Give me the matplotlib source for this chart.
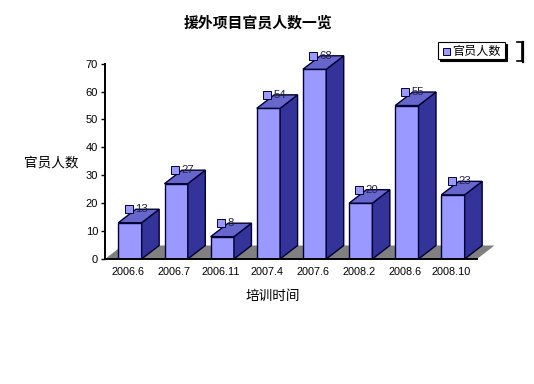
import matplotlib
matplotlib.use('Agg')

import matplotlib.pyplot as plt
from matplotlib.patches import Polygon, Rectangle

plt.rcParams['font.family'] = ['Liberation Sans', 'Noto Sans CJK SC', 'DejaVu Sans']

# datos
categories = ['2006.6', '2006.7', '2006.11', '2007.4', '2007.6', '2008.2', '2008.6', '2008.10']
values = [13, 27, 8, 54, 68, 20, 55, 23]
y_ticks = [0, 10, 20, 30, 40, 50, 60, 70]
series_name = '官员人数'
title = '援外项目官员人数一览'
x_label = '培训时间'
y_label = '官员人数'

W, H = 534, 384
FRONT = '#9999FF'
TOP = '#6666CC'
SIDE = '#333399'
FLOOR = '#808080'
EDGE = '#000033'

fig = plt.figure(figsize=(W / 100, H / 100), dpi=100, facecolor='white')
# eje en pixeles: x 105-477, y 259-63.7
ax = fig.add_axes([105 / W, 1 - 259 / H, 372 / W, 195.3 / H])
ax.set_xlim(-0.542, 7.52)
ax.set_ylim(0, 70)
ax.patch.set_visible(False)

# profundidad 3D en unidades de datos
dx = 17.5 / 46.14
dy = 13.5 / 2.79
bar_w = 0.505

x_left, x_right = ax.get_xlim()
ax.add_patch(Polygon([(x_left, 0), (x_right, 0), (x_right + dx, dy), (x_left + dx, dy)],
                     closed=True, facecolor=FLOOR, edgecolor='none', zorder=1, clip_on=False))

xs = list(range(len(values)))
for i, v in zip(xs, values):
    l, r = i - bar_w / 2, i + bar_w / 2
    ax.bar(i, v, width=bar_w, color=FRONT, edgecolor=EDGE, linewidth=1, zorder=3 + i)
    ax.add_patch(Polygon([(r, 0), (r + dx, dy), (r + dx, v + dy), (r, v)], closed=True,
                         facecolor=SIDE, edgecolor=EDGE, linewidth=1, zorder=3 + i, clip_on=False))
    ax.add_patch(Polygon([(l, v), (r, v), (r + dx, v + dy), (l + dx, v + dy)], closed=True,
                         facecolor=TOP, edgecolor=EDGE, linewidth=1, zorder=3 + i, clip_on=False))

# etiquetas de valor con su marca cuadrada
for i, v in zip(xs, values):
    ax.plot(i - 0.03, v + dy, 's', ms=5.6, mfc=FRONT, mec=EDGE, mew=0.7, zorder=20, clip_on=False)
    ax.annotate(str(v), (i, v + dy), xytext=(3.6, 0), textcoords='offset points', fontsize=8.2,
                ha='left', va='center', color='#222244', zorder=21, annotation_clip=False)

for s in ['top', 'right']:
    ax.spines[s].set_visible(False)
for s in ['left', 'bottom']:
    ax.spines[s].set_linewidth(1.4)
    ax.spines[s].set_zorder(30)

ax.set_yticks(y_ticks)
ax.tick_params(axis='y', length=3, width=1, pad=2, labelsize=8)
ax.set_xticks([i - 0.04 for i in xs])
ax.set_xticklabels(categories)
ax.tick_params(axis='x', length=0, pad=6, labelsize=7.8)

fig.text(257.5 / W, 1 - 23 / H, title, fontsize=10.7, fontweight='bold', ha='center', va='center')
fig.text(51 / W, 1 - 162 / H, y_label, fontsize=9.8, ha='center', va='center')
fig.text(272.5 / W, 1 - 296 / H, x_label, fontsize=9.8, ha='center', va='center')

# leyenda dibujada a mano, con sombra
leg_l, leg_t, leg_r, leg_b = 437.5, 42, 505, 59
fig.add_artist(Rectangle(((leg_l + 2) / W, 1 - (leg_b + 2) / H), (leg_r - leg_l) / W, (leg_b - leg_t) / H,
                         transform=fig.transFigure, facecolor='black', edgecolor='black', lw=0.8))
fig.add_artist(Rectangle((leg_l / W, 1 - leg_b / H), (leg_r - leg_l) / W, (leg_b - leg_t) / H,
                         transform=fig.transFigure, facecolor='white', edgecolor='black', lw=0.8))
fig.add_artist(Rectangle((442.5 / W, 1 - 54.5 / H), 7 / W, 7 / H, transform=fig.transFigure,
                         facecolor=FRONT, edgecolor=EDGE, lw=0.7))
fig.text(452.5 / W, 1 - 52 / H, series_name, fontsize=8.7, ha='left', va='center')

# resto del marco de la leyenda, a la derecha
fig.add_artist(plt.Line2D([517 / W, 522 / W, 522 / W, 517 / W],
                          [1 - 42 / H, 1 - 42 / H, 1 - 60.5 / H, 1 - 60.5 / H],
                          transform=fig.transFigure, color='black', lw=1.2))
fig.add_artist(plt.Line2D([523 / W, 523 / W], [1 - 41.5 / H, 1 - 61.5 / H],
                          transform=fig.transFigure, color='black', lw=1.6))

fig.savefig('out.png', dpi=100, facecolor='white')
plt.close(fig)
